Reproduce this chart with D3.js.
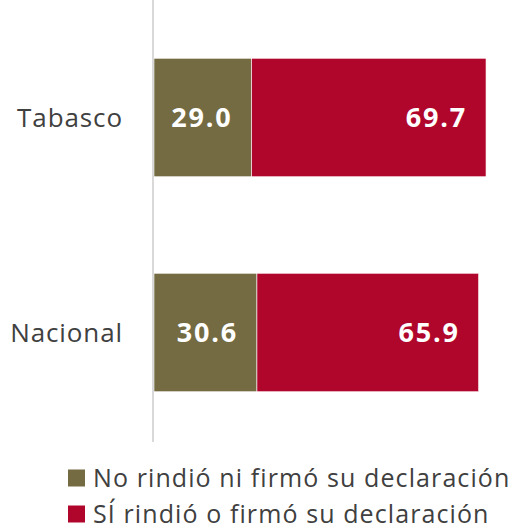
<!DOCTYPE html>
<html>
<head>
<meta charset="utf-8">
<script src="https://cdn.jsdelivr.net/npm/d3@7"></script>
<style>
  body { margin: 0; background: #fff; }
  svg { display: block; font-family: "Open Sans", sans-serif; }
</style>
</head>
<body>
<div id="chart"></div>
<script>
// data
var categories = ['Tabasco', 'Nacional'];
var seriesNames = ['No rindió ni firmó su declaración', 'SÍ rindió o firmó su declaración'];
var noRindio = [29.0, 30.6];
var siRindio = [69.7, 65.9];
var colors = ['#746b42', '#b1062c'];

var width = 520, height = 529;

var svg = d3.select('#chart').append('svg')
    .attr('width', width)
    .attr('height', height);

var x = d3.scaleLinear()
    .domain([0, 100])
    .range([154, 490.4]);

var y = d3.scaleBand()
    .domain(categories)
    .range([10, 440])
    .paddingInner(0.449)
    .paddingOuter(0.2245);

var rows = categories.map(function(c, i) {
    return { cat: c, vals: [noRindio[i], siRindio[i]] };
});

// stacked segments
var g = svg.selectAll('g.row')
    .data(rows)
    .enter().append('g')
    .attr('class', 'row');

g.each(function(d) {
    var row = d3.select(this);
    var start = 0;
    d.vals.forEach(function(v, k) {
        row.append('rect')
            .attr('x', x(start))
            .attr('y', y(d.cat))
            .attr('width', x(start + v) - x(start))
            .attr('height', y.bandwidth())
            .style('fill', colors[k])
            .style('stroke', '#fff')
            .style('stroke-width', 0.6);
        row.append('text')
            .attr('x', x(start + v) - 19)
            .attr('y', y(d.cat) + y.bandwidth() / 2)
            .attr('dy', '.35em')
            .attr('text-anchor', 'end')
            .style('font-size', '27px')
            .style('font-weight', 'bold')
            .style('letter-spacing', '1.8px')
            .style('fill', '#fff')
            .text(v.toFixed(1));
        start += v;
    });
});

// category axis
svg.append('line')
    .attr('x1', 153).attr('x2', 153)
    .attr('y1', 0).attr('y2', y.range()[1] + 2)
    .style('stroke', '#d9d9d9')
    .style('stroke-width', 2);

var axis = svg.append('g')
    .attr('transform', 'translate(123,0)')
    .call(d3.axisLeft(y).tickSize(0).tickPadding(0));
axis.select('.domain').remove();
axis.selectAll('text')
    .attr('dy', '.35em')
    .style('font-family', '"Open Sans", sans-serif')
    .style('font-size', '26px')
    .style('letter-spacing', '0.9px')
    .style('fill', '#404040');

// legend
var legend = svg.selectAll('g.legend')
    .data(seriesNames)
    .enter().append('g')
    .attr('class', 'legend')
    .attr('transform', function(d, i) { return 'translate(68,' + (469.5 + i * 36) + ')'; });

legend.append('rect')
    .attr('width', 17)
    .attr('height', 17)
    .style('fill', function(d, i) { return colors[i]; });

legend.append('text')
    .attr('x', 25)
    .attr('y', 17)
    .style('font-size', '25px')
    .style('letter-spacing', '1.1px')
    .style('fill', '#404040')
    .text(function(d) { return d; });
</script>
</body>
</html>
